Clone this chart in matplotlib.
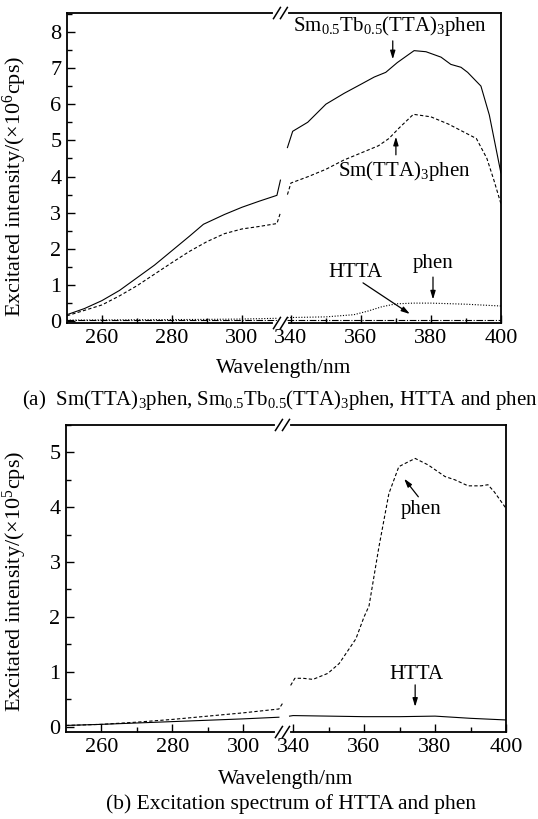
import numpy as np
import matplotlib
matplotlib.use("Agg")
import matplotlib.pyplot as plt

plt.rcParams['font.family'] = ['Liberation Serif', 'DejaVu Serif']
plt.rcParams['mathtext.fontset'] = 'custom'
plt.rcParams['mathtext.rm'] = 'Liberation Serif'
plt.rcParams['mathtext.default'] = 'regular'

# ---------------- data (wavelength nm, intensity) ----------------
# Panel (a), units 10^6 cps
a_smtb_wl = [250, 255, 260, 265, 270, 275, 280, 285, 289, 295, 300, 305, 310, 311,
             339, 340.5, 344.8, 350, 355.2, 360, 363.8, 367.1, 370.4, 373.3, 375.2, 378.6,
             382.9, 385.7, 388.6, 390.5, 394.3, 396.7, 400]
a_smtb = [0.18, 0.35, 0.57, 0.85, 1.2, 1.55, 1.95, 2.35, 2.68, 2.95, 3.15, 3.32, 3.48, 3.9,
          4.8, 5.25, 5.5, 6.0, 6.3, 6.55, 6.75, 6.88, 7.15, 7.35, 7.48, 7.45,
          7.3, 7.1, 7.02, 6.88, 6.5, 5.7, 4.1]

a_sm_wl = [250, 260, 265, 270, 275, 280, 285, 290, 295, 300, 305, 310, 311,
           339, 340, 345, 350, 355, 360, 365, 368, 371, 375, 380, 385, 390, 393, 396, 398, 400]
a_sm = [0.15, 0.45, 0.7, 0.98, 1.3, 1.62, 1.93, 2.2, 2.42, 2.55, 2.62, 2.7, 3.0,
        3.5, 3.82, 4.0, 4.2, 4.45, 4.65, 4.85, 5.05, 5.35, 5.72, 5.65, 5.45, 5.2, 5.05, 4.5, 3.9, 3.25]

a_htta_wl = [250, 280, 310, 339, 370, 400]
a_htta = [0.04, 0.04, 0.04, 0.04, 0.04, 0.04]

a_phen_wl = [250, 270, 290, 300, 310, 339, 350, 358, 362, 366, 370, 375, 380, 390, 400]
a_phen = [0.03, 0.04, 0.05, 0.06, 0.08, 0.1, 0.12, 0.18, 0.28, 0.4, 0.48, 0.5, 0.5, 0.47, 0.42]

# Panel (b), units 10^5 cps
b_phen_wl = [250, 260, 270, 280, 290, 300, 310, 311,
             339.3, 340.5, 342.8, 345.6, 349.8, 353, 357.7, 360, 361.4, 364.2, 367, 369.8,
             371.6, 374.4, 378.1, 382.8, 385.6, 389.3, 393, 394.9, 396.7, 400]
b_phen = [0.02, 0.04, 0.08, 0.13, 0.19, 0.25, 0.32, 0.42,
          0.75, 0.88, 0.88, 0.86, 0.97, 1.15, 1.6, 2.0, 2.2, 3.28, 4.25, 4.74,
          4.8, 4.89, 4.77, 4.56, 4.5, 4.39, 4.39, 4.41, 4.28, 3.98]

b_htta_wl = [250, 260, 280, 300, 310, 339, 340, 350, 360, 370, 380, 390, 400]
b_htta = [0.02, 0.04, 0.09, 0.14, 0.17, 0.19, 0.2, 0.19, 0.18, 0.18, 0.19, 0.15, 0.12]

x_major = [260, 280, 300, 340, 360, 380, 400]
x_minor = [270, 290, 350, 370, 390]

SHIFT = 26.0
BREAK_T = 311.0
FS_TICK = 16
FS_LAB = 16
FS_ANN = 15
FS_CAP = 15


def tx(w):
    w = np.asarray(w, dtype=float)
    return np.where(w < 325, w, w - SHIFT)


def plot_broken(ax, wl, vals, **kw):
    wl = np.asarray(wl, dtype=float)
    vals = np.asarray(vals, dtype=float)
    left = wl < 325
    ax.plot(tx(wl[left]), vals[left], **kw)
    ax.plot(tx(wl[~left]), vals[~left], **kw)


def style_axes(ax, ymax, ylim, ylabel, ylab_xy, xlab_y):
    ax.set_xlim(250, 400 - SHIFT)
    ax.set_ylim(*ylim)
    ax.set_xticks(tx(x_major))
    ax.set_xticklabels([str(v) for v in x_major])
    ax.set_xticks(tx(x_minor), minor=True)
    ax.set_yticks(np.arange(0, ymax + 1))
    ax.set_yticks(np.arange(0.5, ymax + 0.6, 1.0), minor=True)
    ax.tick_params(which='both', direction='in', top=False, right=False, labelsize=FS_TICK,
                   width=1.0)
    ax.tick_params(which='major', length=6, pad=4)
    ax.tick_params(which='minor', length=3.5)
    for s in ax.spines.values():
        s.set_linewidth(1.3)
    ax.set_xlabel('Wavelength/nm', fontsize=FS_CAP + 0.5)
    ax.xaxis.set_label_coords(0.5, xlab_y)
    ax.set_ylabel(ylabel, fontsize=FS_LAB)
    ax.yaxis.set_label_coords(*ylab_xy)
    # break markers on top and bottom spines
    xb = (BREAK_T - 250) / (400 - SHIFT - 250)
    for yb in (0, 1):
        ax.plot([xb - 0.012, xb + 0.012], [yb, yb], transform=ax.transAxes,
                color='white', lw=3, clip_on=False, zorder=5)
        for dx in (-0.008, 0.008):
            ax.plot([xb + dx - 0.008, xb + dx + 0.008], [yb - 0.018, yb + 0.018],
                    transform=ax.transAxes, color='black', lw=1.1, clip_on=False, zorder=6)


fig = plt.figure(figsize=(5.38, 8.19), dpi=100)

# ---------------- panel (a) ----------------
ax1 = fig.add_axes([0.1245, 0.6056, 0.8065, 0.3785])
plot_broken(ax1, a_smtb_wl, a_smtb, color='black', lw=0.8, ls='-')
plot_broken(ax1, a_sm_wl, a_sm, color='black', lw=0.8, ls=(0, (3, 2)))
plot_broken(ax1, a_htta_wl, a_htta, color='black', lw=0.8, ls=(0, (6, 1.5, 1, 1.5)))
plot_broken(ax1, a_phen_wl, a_phen, color='black', lw=0.8, ls=(0, (1, 1.5)))
style_axes(ax1, 8, (-0.05, 8.52), 'Excitated intensity/(×10$^6$cps)',
           (-0.0876, 0.44), -0.116)

arrow = dict(arrowstyle='-|>,head_length=0.5,head_width=0.15', color='black', lw=0.9,
             shrinkA=0, shrinkB=0)
ax1.text(342.3, 8.15, 'Sm$_{0.5}$Tb$_{0.5}$(TTA)$_3$phen', ha='center', va='center', fontsize=FS_ANN)
ax1.annotate('', xy=(343.1, 7.24), xytext=(343.1, 7.75), arrowprops=arrow)
ax1.text(346.5, 4.15, 'Sm(TTA)$_3$phen', ha='center', va='center', fontsize=FS_ANN)
ax1.annotate('', xy=(344.0, 5.1), xytext=(344.0, 4.6), arrowprops=arrow)
ax1.text(332.3, 1.36, 'HTTA', ha='center', va='center', fontsize=FS_ANN)
ax1.annotate('', xy=(348.0, 0.2), xytext=(334.6, 1.06), arrowprops=arrow)
ax1.text(354.6, 1.6, 'phen', ha='center', va='center', fontsize=FS_ANN)
ax1.annotate('', xy=(354.6, 0.6), xytext=(354.6, 1.22), arrowprops=arrow)

fig.text(22 / 538, 1 - 400 / 819,
         '(a)  Sm(TTA)$_3$phen, Sm$_{0.5}$Tb$_{0.5}$(TTA)$_3$phen, HTTA and phen',
         ha='left', va='center', fontsize=FS_CAP)

# ---------------- panel (b) ----------------
ax2 = fig.add_axes([0.1227, 0.1062, 0.8178, 0.3749])
plot_broken(ax2, b_phen_wl, b_phen, color='black', lw=0.8, ls=(0, (3, 2)))
plot_broken(ax2, b_htta_wl, b_htta, color='black', lw=0.8, ls='-')
style_axes(ax2, 5, (-0.1, 5.5), 'Excitated intensity/(×10$^5$cps)',
           (-0.084, 0.492), -0.124)

ax2.text(350.2, 3.95, 'phen', ha='center', va='center', fontsize=FS_ANN)
ax2.annotate('', xy=(345.3, 4.52), xytext=(349.3, 4.19), arrowprops=arrow)
ax2.text(348.8, 0.94, 'HTTA', ha='center', va='center', fontsize=FS_ANN)
ax2.annotate('', xy=(348.4, 0.36), xytext=(348.4, 0.76), arrowprops=arrow)

fig.text(291 / 538, 1 - 804 / 819, '(b) Excitation spectrum of HTTA and phen',
         ha='center', va='center', fontsize=FS_CAP + 0.5)

fig.savefig('out.png', dpi=100)
